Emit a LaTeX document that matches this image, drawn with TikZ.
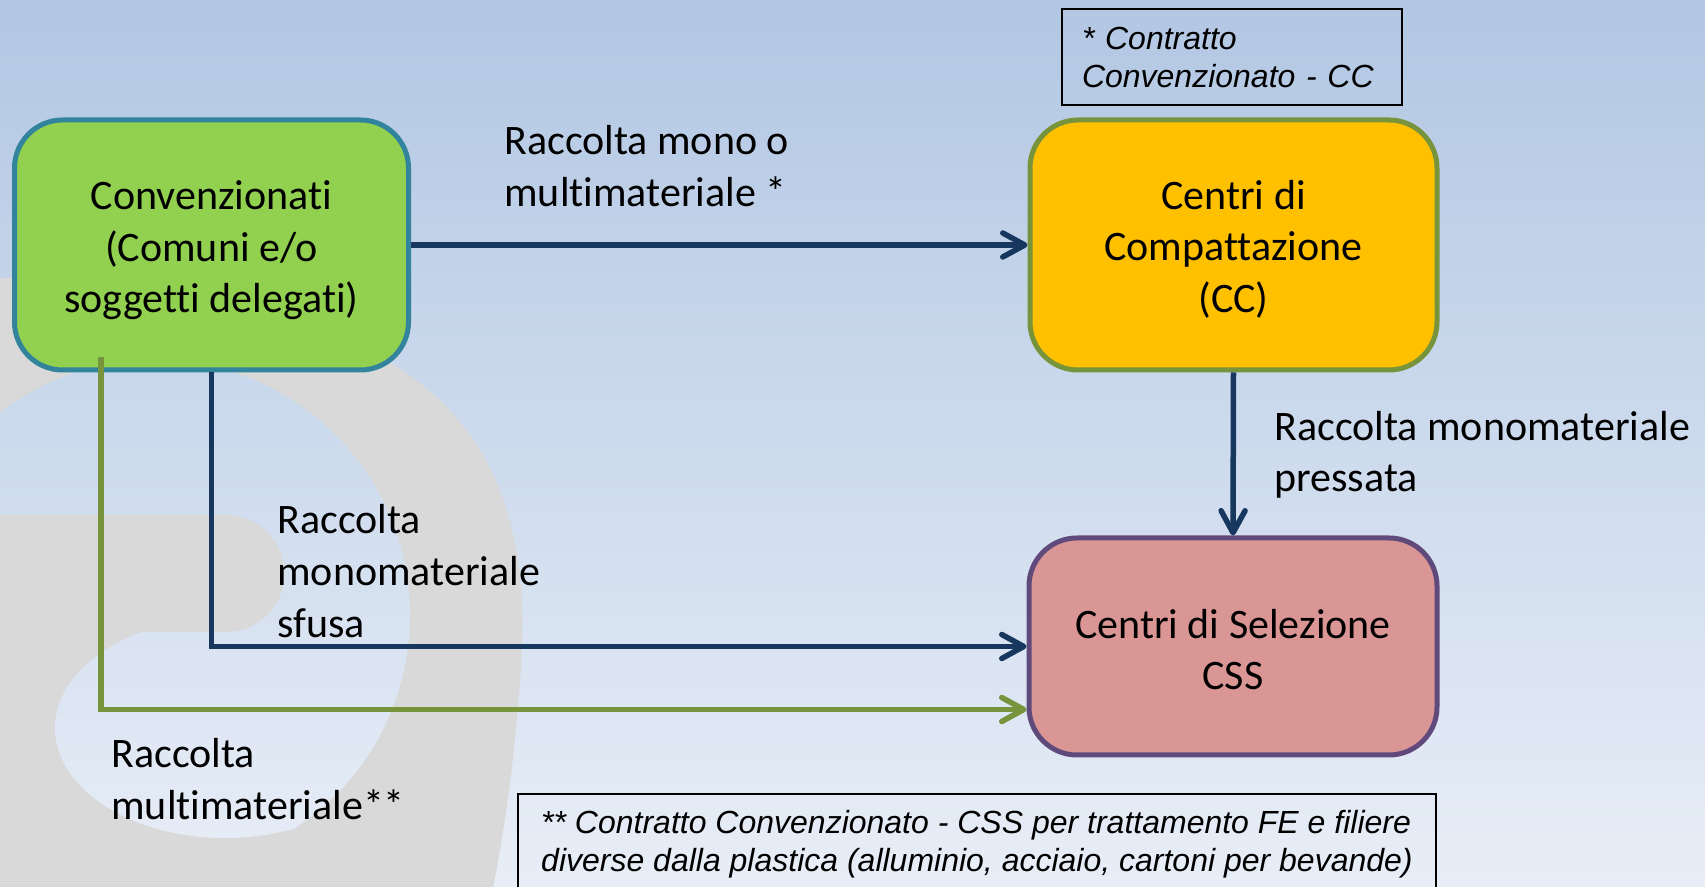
\documentclass[tikz,border=0pt]{standalone}
\usepackage{fontspec}
\setmainfont{Carlito}[Ligatures={NoCommon,NoContextual}]
\newfontfamily\notefont{Liberation Sans}
\usepackage{tikz}
\usetikzlibrary{positioning, arrows.meta}

\definecolor{bgtop}{HTML}{B2C7E3}
\definecolor{bgbottom}{HTML}{E8EEF7}
\definecolor{swirlgrey}{HTML}{D9D9D9}
\definecolor{convgreen}{HTML}{92D050}
\definecolor{convborder}{HTML}{31849B}
\definecolor{ccorange}{HTML}{FFC000}
\definecolor{ccborder}{HTML}{77933C}
\definecolor{csspink}{HTML}{D99694}
\definecolor{cssborder}{HTML}{604A7B}
\definecolor{flowblue}{HTML}{17375E}
\definecolor{flowgreen}{HTML}{77933C}

\tikzset{
  bgshade/.style={top color=bgtop, bottom color=bgbottom},
  bigfont/.style={font=\fontsize{21pt}{25.8pt}\selectfont},
  centre/.style={bigfont, draw, line width=2.5pt, rounded corners=24pt, align=center, inner sep=0pt},
  textdown/.style={execute at begin node={\rule{0pt}{#1}}},
  note/.style={draw=black, line width=0.75pt, align=left, inner sep=0pt,
    font=\notefont\itshape\fontsize{16pt}{19pt}\selectfont},
  lbl/.style={bigfont, align=left, inner sep=0pt, anchor=west},
  flow/.style={line width=2.75pt, -{Straight Barb[length=11pt,width=12pt,round]}},
}

\begin{document}
\begin{tikzpicture}[x=0.5pt, y=-0.5pt]
    % the slide
    \clip (0,0) rectangle (1705,887);
    \shade[bgshade] (0,0) rectangle (1705,887);

    % draw the grey swirl behind
    \fill[swirlgrey] (-50,280) .. controls (150,270) and (330,300) .. (440,400)
      .. controls (510,470) and (530,560) .. (520,680)
      .. controls (512,790) and (500,860) .. (480,950) -- (-50,950) -- cycle;
    \begin{scope}
      \clip (155,615) circle [radius=255];
      \shade[bgshade] (0,0) rectangle (1705,887);
      \fill[swirlgrey] (-200,573) -- (226,573) -- (226,790) -- (700,790) -- (700,1000) -- (-200,1000) -- cycle;
      \begin{scope}
        \clip (0,0) rectangle (1705,887);
        \clip (225,728) ellipse [x radius=170, y radius=110];
        \shade[bgshade] (0,0) rectangle (1705,887);
      \end{scope}
      \fill[swirlgrey] (-200,515) -- (226,515)
        arc [start angle=-90, end angle=90, radius=58.5] -- (-200,632) -- cycle;
    \end{scope}

    % draw the three centres
    \node[centre, textdown=71.5pt, fill=convgreen, draw=convborder, minimum width=197pt, minimum height=125pt]
      (conv) at (211.5,245) {Convenzionati\\(Comuni e/o\\soggetti delegati)};
    \node[centre, textdown=70.2pt, fill=ccorange, draw=ccborder, minimum width=203.5pt, minimum height=125pt]
      (cc) at (1233.5,245) {Centri di\\Compattazione\\(CC)};
    \node[centre, textdown=43.3pt, fill=csspink, draw=cssborder, minimum width=204pt, minimum height=108.5pt]
      (css) at (1233,646.5) {Centri di Selezione\\CSS};

    % draw the two notes
    \node[note, minimum width=170pt, minimum height=48pt, text width=150pt]
      (noteCC) at (1232,57) {* Contratto\\Convenzionato - CC};
    \node[note, minimum width=459pt, minimum height=50pt]
      (noteCSS) at (977,844) {** Contratto Convenzionato - CSS per trattamento FE e filiere\\diverse dalla plastica (alluminio, acciaio, cartoni per bevande)};

    % draw the flows
    \coordinate (gstart) at (101,357);
    \draw[flow, flowblue] (conv.east) -- (conv.east -| cc.west);
    \draw[flow, flowblue] (cc.south) -- (css.north);
    \draw[flow, flowblue] (conv.south) |- (css.west);
    \draw[flow, flowgreen] (gstart) |- ([yshift=-31.5pt]css.west);

    % draw the labels of the flows
    \node[lbl] (monomulti) at (504,166) {Raccolta mono o\\multimateriale *};
    \node[lbl] (pressata) at (1274,455) {Raccolta monomateriale\\pressata};
    \node[lbl] (sfusa) at (277,571) {Raccolta\\monomateriale\\sfusa};
    \node[lbl] (multi) at (111,779) {Raccolta\\multimateriale**};

\end{tikzpicture}
\end{document}
